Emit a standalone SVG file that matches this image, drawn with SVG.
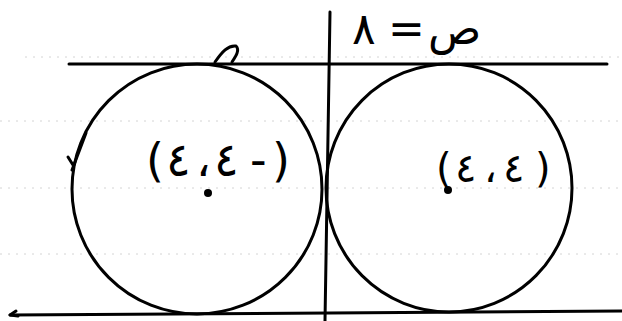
<svg xmlns="http://www.w3.org/2000/svg" width="622" height="321" viewBox="0 0 622 321">
<style>
.ink{fill:none;stroke:#000;stroke-width:3;stroke-linecap:round;stroke-linejoin:round}
.rule{fill:none;stroke:#d4d4d4;stroke-width:1;stroke-dasharray:2 6}
.lbl{font-family:"DejaVu Sans",sans-serif;fill:#000;direction:ltr;unicode-bidi:bidi-override}
</style>
<rect width="622" height="321" fill="#fff"/>
<g id="ruling">
<line class="rule" x1="25" y1="57" x2="622" y2="57"/>
<line class="rule" x1="0" y1="121" x2="622" y2="121"/>
<line class="rule" x1="0" y1="188" x2="622" y2="188"/>
<line class="rule" x1="0" y1="254" x2="622" y2="254"/>
</g>
<g id="connectors">
<line id="line-top" class="ink" x1="69" y1="64" x2="607" y2="64"/>
<path id="line-bottom" class="ink" d="M10,315 L330,313 L622,311"/>
<path id="hook" class="ink" d="M16,311 L10,315 L18,316"/>
<line id="y-axis" class="ink" x1="330" y1="12" x2="325" y2="321"/>
</g>
<g id="circle-left">
<ellipse class="ink" cx="197" cy="189" rx="125" ry="125"/>
<circle cx="208" cy="193" r="4" fill="#000"/>
<text class="lbl" x="146 166 196 214 250 272" y="176" font-size="46">(٤،٤-)</text>
</g>
<g id="circle-right">
<ellipse class="ink" cx="449" cy="188" rx="123" ry="124"/>
<circle cx="448" cy="190" r="4" fill="#000"/>
<text class="lbl" x="436 455 484 503 535" y="182" font-size="40">(٤،٤)</text>
</g>
<g id="equation">
<text class="lbl" x="352 388 428" y="44" font-size="44">٨=ص</text>
</g>
<g id="marks">
<path class="ink" d="M215,62 C222,52 228,45 236,46 C240,50 236,56 232,62"/>
<path class="ink" d="M86,133 L72,170 M68,157 L73,165"/>
</g>
</svg>
